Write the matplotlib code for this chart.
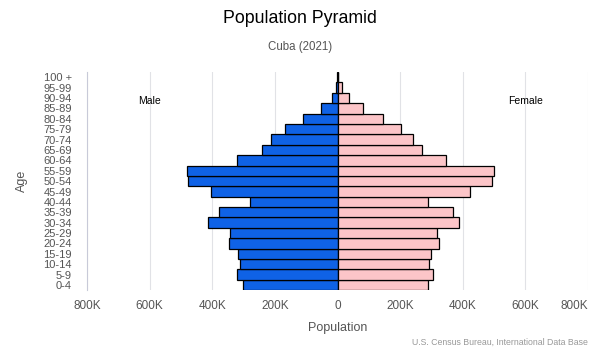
"""Population pyramid for Cuba (2021), U.S. Census Bureau IDB style."""

import matplotlib
matplotlib.use("Agg")
import matplotlib.pyplot as plt
import numpy as np

plt.rcParams["font.family"] = ["Liberation Sans", "DejaVu Sans"]

age_groups = [
    "0-4", "5-9", "10-14", "15-19", "20-24", "25-29", "30-34", "35-39",
    "40-44", "45-49", "50-54", "55-59", "60-64", "65-69", "70-74",
    "75-79", "80-84", "85-89", "90-94", "95-99", "100 +",
]
male = [
    303000, 322000, 311000, 318000, 348000, 343000, 414000, 380000,
    279000, 404000, 479000, 482000, 322000, 241000, 213000,
    169000, 111000, 53000, 18000, 4000, 1500,
]
female = [
    288000, 304000, 293000, 298000, 323000, 317000, 387000, 368000,
    288000, 423000, 494000, 501000, 346000, 269000, 240000,
    202000, 144000, 83000, 37000, 14000, 1500,
]
x_ticks = [-800000, -600000, -400000, -200000, 0, 200000, 400000, 600000, 800000]
x_tick_labels = ["800K", "600K", "400K", "200K", "0", "200K", "400K", "600K", "800K"]

MALE_COLOR = "#0f62e6"
FEMALE_COLOR = "#fcc5c8"
TEXT_GRAY = "#555555"

fig = plt.figure(figsize=(6, 3.5), dpi=100)
ax = fig.add_axes([0.145, 0.171, 0.835, 0.623])

y = np.arange(len(age_groups))
ax.barh(y, -np.asarray(male), height=1.0, color=MALE_COLOR,
        edgecolor="black", linewidth=0.9, zorder=3)
ax.barh(y, female, height=1.0, color=FEMALE_COLOR,
        edgecolor="black", linewidth=0.9, zorder=3)

ax.set_xlim(-800000, 800000)
ax.set_ylim(-0.5, len(age_groups) - 0.5)
ax.set_yticks(y)
ax.set_yticklabels(age_groups)
ax.set_xticks(x_ticks)
ax.set_xticklabels(x_tick_labels)
ax.get_xticklabels()[-1].set_ha("right")

ax.tick_params(axis="both", length=0, colors=TEXT_GRAY)
ax.tick_params(axis="y", labelsize=8, pad=11)
ax.tick_params(axis="x", labelsize=8.5, pad=7)

ax.grid(axis="x", color="#e1e2e6", linewidth=0.8, zorder=0)
for side in ["top", "right", "bottom"]:
    ax.spines[side].set_visible(False)
ax.spines["left"].set_color("#c8cad8")
ax.spines["left"].set_linewidth(0.8)

ax.set_xlabel("Population", fontsize=9, color=TEXT_GRAY, labelpad=7)
ax.set_ylabel("Age", fontsize=9, color=TEXT_GRAY, labelpad=11)

ax.text(-600000, 17.7, "Male", fontsize=7.5, ha="center", va="center")
ax.text(600000, 17.7, "Female", fontsize=7.5, ha="center", va="center")

fig.text(0.5, 0.946, "Population Pyramid", fontsize=12.8, ha="center", va="center")
fig.text(0.5, 0.866, "Cuba (2021)", fontsize=8.3, ha="center", va="center", color=TEXT_GRAY)
fig.text(0.98, 0.022, "U.S. Census Bureau, International Data Base",
         fontsize=6.3, ha="right", va="center", color="#999999")

fig.savefig("out.png", dpi=100)
